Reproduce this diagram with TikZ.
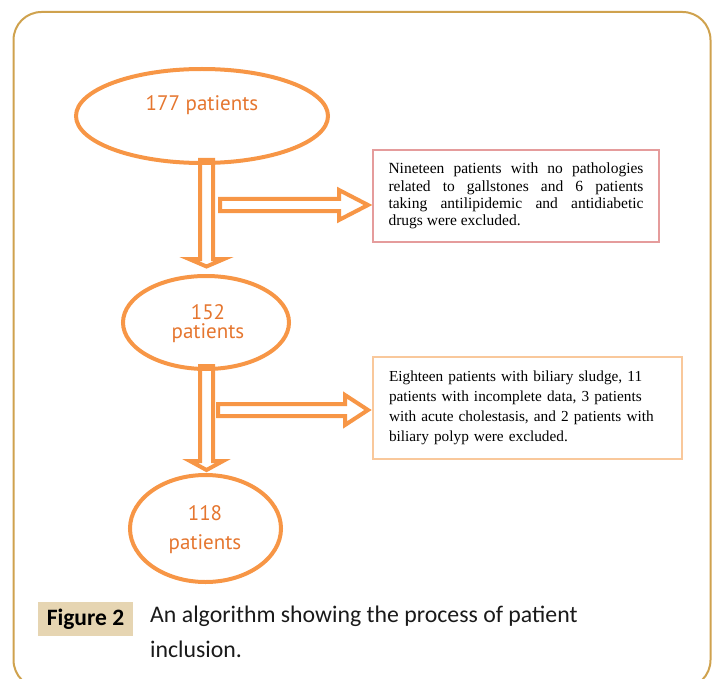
\documentclass[tikz,border=0pt]{standalone}
\usepackage{fontspec}
\setmainfont{Liberation Serif}
\newfontfamily\ptsans{PT Sans}
\newfontfamily\carlito{Carlito}
\usetikzlibrary{shapes.geometric}
\definecolor{goldframe}{HTML}{CFA24E}
\definecolor{arr}{HTML}{F79646}
\definecolor{otext}{HTML}{E5762F}
\definecolor{pinkb}{HTML}{E59C9C}
\definecolor{lorange}{HTML}{F9C89B}
\definecolor{tanbg}{HTML}{E6D5B2}
\definecolor{captext}{HTML}{1A1A1A}
\begin{document}
\begin{tikzpicture}[x=1pt,y=-1pt,
  ell/.style={ellipse, draw=arr, line width=4pt, inner sep=0pt},
  blk/.style={draw=arr, line width=4pt, fill=white, line join=miter},
  etext/.style={font=\ptsans\fontsize{21}{21}\selectfont, text=otext, inner sep=0pt, align=center},
  exbox/.style={draw=#1, line width=1.5pt, inner ysep=0pt, text=black},
]
\useasboundingbox (0,0) rectangle (717,679);
\begin{scope}
\clip (0,0) rectangle (717,679);
\draw[goldframe, line width=2pt, rounded corners=28pt] (13.5,12) rectangle (710.5,688);
\end{scope}

% block arrows
\draw[blk] (200,160) -- (200,259) -- (189,259) -- (206.5,266.5) -- (224,259) -- (213,259) -- (213,160) -- cycle;
\draw[blk] (220,199) -- (339,199) -- (339,190) -- (368,205) -- (339,220) -- (339,211) -- (220,211) -- cycle;
\draw[blk] (200,366) -- (200,461) -- (190,461) -- (206.5,470) -- (223,461) -- (213,461) -- (213,366) -- cycle;
\draw[blk] (218,404) -- (345,404) -- (345,395) -- (368,410) -- (345,425) -- (345,416) -- (218,416) -- cycle;

% ellipses
\node[ell, minimum width=252, minimum height=94] (e1) at (202,116) {};
\node[ell, minimum width=166, minimum height=93] (e2) at (206,322.5) {};
\node[ell, minimum width=151, minimum height=107] (e3) at (205.5,528.5) {};

\node[etext] (t1) at (202,105) {177 patients};
\node[etext] (t2a) at (208,312) {152};
\node[etext] (t2b) at (208,333) {patients};
\node[etext] (t3a) at (205,513) {118};
\node[etext] (t3b) at (205,544) {patients};

% exclusion boxes
\node[exbox=pinkb, text width=255, inner xsep=15.5pt, minimum height=92, align=justify,
      font=\fontsize{15.5}{17.3}\selectfont] (b1) at (516,196)
  {Nineteen patients with no pathologies\linebreak related to gallstones and 6 patients\linebreak taking antilipidemic and antidiabetic\linebreak drugs were excluded.};
\node[exbox=lorange, text width=277, inner xsep=16pt, minimum height=102, align=left,
      font=\fontsize{15.3}{20}\selectfont] (b2) at (527.5,408)
  {Eighteen patients with biliary sludge, 11\\patients with incomplete data, 3 patients\\with acute cholestasis, and 2 patients with\\biliary polyp were excluded.};

% caption
\node[fill=tanbg, minimum width=95, minimum height=34, inner sep=0pt,
      font=\carlito\bfseries\fontsize{23.5}{24}\selectfont] (fig) at (85.5,619) {Figure 2};
\node[anchor=west, inner sep=0pt, align=left, text=captext,
      font=\carlito\fontsize{23.8}{35}\selectfont] (cap) at (150,632) {An algorithm showing the process of patient\\inclusion.};
\end{tikzpicture}
\end{document}
